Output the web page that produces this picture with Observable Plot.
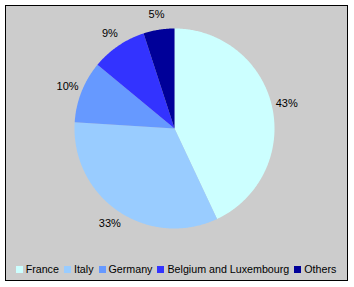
<!DOCTYPE html>
<html><head><meta charset="utf-8">
<script src="https://cdn.jsdelivr.net/npm/d3@7"></script>
<script src="https://cdn.jsdelivr.net/npm/@observablehq/plot@0.6"></script>
<style>
html,body{margin:0;padding:0;background:#fff;width:354px;height:287px;overflow:hidden;font-family:"Liberation Sans",Arial,sans-serif;}
#frame{position:absolute;left:5px;top:5px;width:341px;height:274px;border:1px solid #000;background:#cccccc;}
#chart{position:absolute;left:0;top:0;}
#legend{position:absolute;left:0;width:352px;top:263px;display:flex;justify-content:center;font-size:10.7px;color:#000;line-height:13px;}
#legend .it{display:flex;align-items:center;margin:0 2.5px;}
#legend .sw{width:7px;height:7px;margin-right:3px;}
</style></head>
<body>
<div id="frame"></div>
<div id="chart"></div>
<div id="legend"></div>
<script>
const categories = ["France", "Italy", "Germany", "Belgium and Luxembourg", "Others"];
const shares = [43, 33, 10, 9, 5];
const labels = ["43%", "33%", "10%", "9%", "5%"];
const colors = ["#CCFFFF", "#99CCFF", "#6699FF", "#3333FF", "#000099"];

const total = d3.sum(shares);
const slicePts = [];
const labelPts = [];
let acc = 0;
categories.forEach((c, i) => {
  const a0 = acc / total * 2 * Math.PI;
  acc += shares[i];
  const a1 = acc / total * 2 * Math.PI;
  slicePts.push({cat: c, x: 0, y: 0});
  const n = Math.max(4, Math.ceil((a1 - a0) / 0.01));
  for (let k = 0; k <= n; k++) {
    const a = a0 + (a1 - a0) * k / n;
    slicePts.push({cat: c, x: Math.sin(a), y: Math.cos(a)});
  }
  slicePts.push({cat: c, x: 0, y: 0});
  const am = (a0 + a1) / 2;
  labelPts.push({cat: c, text: labels[i], x: 1.15 * Math.sin(am), y: 1.15 * Math.cos(am)});
});

const plot = Plot.plot({
  width: 354, height: 287,
  margin: 0,
  style: {background: "transparent", fontFamily: "'Liberation Sans', Arial, sans-serif"},
  x: {domain: [-1.74, 1.80], range: [0, 354], axis: null},
  y: {domain: [1.28, -1.59], range: [0, 287], axis: null},
  color: {domain: categories, range: colors},
  marks: [
    Plot.line(slicePts, {x: "x", y: "y", z: "cat", fill: "cat", stroke: "none", curve: "linear"}),
    Plot.text(labelPts, {x: "x", y: "y", text: "text", fontSize: 11, fill: "#000", textAnchor: "middle"})
  ]
});
document.getElementById("chart").appendChild(plot);

const leg = document.getElementById("legend");
categories.forEach((c, i) => {
  const it = document.createElement("div");
  it.className = "it";
  it.innerHTML = `<span class="sw" style="background:${colors[i]}"></span><span>${c}</span>`;
  leg.appendChild(it);
});
</script>
</body></html>
